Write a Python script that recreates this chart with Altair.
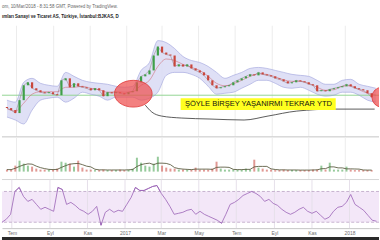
import altair as alt
import pandas as pd

# ---------------- data ----------------
week_start = "2016-06-15"   # weekly samples
close = [1.74, 1.70, 1.64, 1.90, 2.20, 2.26, 2.14, 2.10, 2.06, 2.04,
         2.06, 2.02, 2.00, 2.30, 2.34, 2.16, 2.24, 2.18, 2.16, 2.14,
         2.10, 2.14, 2.10, 1.98, 2.06, 2.04, 2.06, 2.04, 2.02, 2.06,
         2.08, 2.26, 2.38, 2.42, 2.50, 2.80, 2.98, 2.86, 2.82, 2.80,
         2.58, 2.62, 2.58, 2.62, 2.54, 2.50, 2.46, 2.40, 2.30, 2.20,
         2.14, 2.16, 2.18, 2.20, 2.26, 2.30, 2.34, 2.38, 2.42, 2.40,
         2.46, 2.42, 2.40, 2.38, 2.34, 2.32, 2.28, 2.24, 2.26, 2.30,
         2.28, 2.26, 2.22, 2.20, 2.08, 2.10, 2.08, 2.12, 2.14, 2.16,
         2.18, 2.22, 2.18, 2.14, 2.12, 2.10, 2.04, 1.96]
first_open = 1.76
volume_m = [0.5, 0.5, 1.5, 2.75, 2, 1.5, 1.25, 0.75, 0.5, 0.5,
            0.5, 0.5, 0.75, 2.5, 2.25, 2, 1.25, 2.75, 1, 0.5,
            0.5, 0.38, 0.38, 0.5, 0.38, 0.38, 0.38, 0.5, 0.38, 0.5,
            0.75, 3.5, 2.25, 1.5, 1.25, 2, 3.75, 1.5, 1, 0.75,
            0.75, 0.5, 0.5, 0.5, 0.5, 1, 0.5, 0.5, 0.5, 0.75,
            2.5, 0.75, 0.5, 0.5, 0.5, 0.5, 0.5, 0.75, 0.5, 3,
            1, 0.75, 0.5, 0.5, 0.38, 0.38, 0.5, 0.38, 0.38, 0.38,
            0.38, 0.38, 0.38, 0.5, 0.5, 1.5, 0.5, 2.25, 0.5, 0.5,
            0.5, 1.25, 0.5, 0.38, 0.38, 0.38, 0.38, 0.38]
rsi = [30.0, 33.9, 40.3, 70.0, 75.2, 63.5, 57.1, 59.7, 53.2, 46.8,
       49.4, 46.8, 44.2, 75.2, 72.6, 53.2, 55.8, 51.9, 46.8, 44.2,
       40.3, 44.2, 50.6, 26.1, 42.9, 46.8, 42.9, 45.5, 44.2, 53.2,
       62.3, 75.2, 71.3, 71.3, 73.9, 76.5, 77.7, 67.4, 59.7, 50.6,
       40.3, 41.6, 42.9, 45.5, 46.8, 40.3, 44.2, 40.3, 37.7, 35.2,
       32.6, 28.7, 40.3, 53.2, 55.8, 59.7, 64.8, 67.4, 70.0, 67.4,
       63.5, 57.1, 59.7, 54.5, 51.9, 46.8, 42.9, 40.3, 42.9, 46.8,
       49.4, 44.2, 41.6, 44.2, 39.0, 33.9, 36.5, 44.2, 49.4, 50.6,
       55.8, 66.1, 53.2, 49.4, 45.5, 39.0, 32.6, 31.3]

band_start = "2016-06-15"   # bi-weekly samples of the Bollinger band
bb_upper = [1.90, 1.86, 2.26, 2.34, 2.24, 2.20, 2.18, 2.46, 2.38, 2.30,
            2.26, 2.24, 2.22, 2.18, 2.16, 2.18, 2.50, 2.66, 3.10, 3.06,
            2.94, 2.78, 2.70, 2.66, 2.58, 2.46, 2.34, 2.40, 2.46, 2.54,
            2.56, 2.54, 2.50, 2.46, 2.42, 2.40, 2.38, 2.30, 2.22, 2.22,
            2.30, 2.32, 2.22, 2.18, 2.14]
bb_lower = [1.56, 1.50, 1.42, 1.70, 1.90, 1.94, 1.96, 1.86, 1.94, 2.06,
            2.02, 1.98, 1.90, 1.96, 1.96, 1.96, 1.90, 1.94, 2.06, 2.40,
            2.46, 2.46, 2.42, 2.34, 2.18, 2.02, 2.04, 2.06, 2.14, 2.22,
            2.30, 2.30, 2.24, 2.16, 2.14, 2.16, 2.10, 2.02, 1.98, 2.00,
            2.06, 2.06, 2.00, 1.90, 1.86]

month_ticks = ["2016-07-01", "2016-09-01", "2016-11-01", "2017-01-01", "2017-03-01",
               "2017-05-01", "2017-07-01", "2017-09-01", "2017-11-01", "2018-01-01"]
tr_months = ["Oca", "Şub", "Mar", "Nis", "May", "Haz", "Tem", "Ağu", "Eyl", "Eki", "Kas", "Ara"]

support_price = 2.00
curve_dates = ["2017-02-01", "2017-02-12", "2017-02-28", "2017-04-02", "2017-05-20",
               "2017-07-16", "2017-08-25", "2017-10-12", "2017-12-16", "2018-02-19"]
curve_prices = [1.80, 1.66, 1.58, 1.54, 1.52, 1.50, 1.58, 1.68, 1.72, 1.72]

note_text = "ŞÖYLE BİRŞEY YAŞANIRMI TEKRAR YTD"
note_start, note_end, note_mid = "2017-04-01", "2017-12-16", "2017-08-09"
note_top, note_bottom, note_price = 1.94, 1.70, 1.82
circle1 = ("2017-01-12", 2.03)
circle2 = ("2018-03-03", 1.96)

title1 = "om, 10/Mar/2018 - 8:31:58 GMT, Powered by TradingView."
title2 = "ımları Sanayi ve Ticaret AS, Türkiye, İstanbul:BJKAS, D"

# ---------------- tables ----------------
dates = pd.date_range(week_start, periods=len(close), freq="7D").strftime("%Y-%m-%d")
opens = [first_open] + close[:-1]
df = pd.DataFrame({"date": dates, "open": opens, "close": close,
                   "volume": volume_m, "rsi": rsi})
df["dir"] = ["up" if c >= o else "down" for o, c in zip(df["open"], df["close"])]
df["vma"] = df["volume"].rolling(4, min_periods=1).mean()

bdates = pd.date_range(band_start, periods=len(bb_upper), freq="14D").strftime("%Y-%m-%d")
band = pd.DataFrame({"date": bdates, "upper": bb_upper, "lower": bb_lower})
band["basis"] = (band["upper"] + band["lower"]) / 2

grid_df = pd.DataFrame({"date": month_ticks})

UP, DOWN = "#3f9f48", "#c9463c"
FONT = "Liberation Sans"
W = 380
H_PRICE, H_VOL, H_RSI = 137, 43, 49

xs = alt.Scale(type="utc", nice=False,
               domain=[alt.DateTime(year=2016, month=6, date=15, utc=True),
                       alt.DateTime(year=2018, month=2, date=18, utc=True)])
X = alt.X("date:T", scale=xs, axis=None)
dir_color = alt.Color("dir:N", scale=alt.Scale(domain=["up", "down"], range=[UP, DOWN]), legend=None)

# ---------------- price panel ----------------
ys = alt.Scale(domain=[1.16, 3.90], nice=False, zero=False)

pgrid = alt.Chart(grid_df.assign(top=3.40, bottom=1.16)).mark_rule(color="#ececec", strokeWidth=1).encode(
    x=X, y=alt.Y("top:Q", scale=ys, axis=None), y2="bottom:Q")
support = alt.Chart(pd.DataFrame({"p": [support_price]})).mark_rule(color="#93d493", strokeWidth=1).encode(
    y=alt.Y("p:Q", scale=ys, axis=None))
bb_area = alt.Chart(band).mark_area(color="#d9dbf5", opacity=0.85, interpolate="monotone").encode(
    x=X, y=alt.Y("upper:Q", scale=ys, axis=None), y2="lower:Q")
bb_up = alt.Chart(band).mark_line(color="#9da1dc", strokeWidth=0.6, interpolate="monotone").encode(
    x=X, y=alt.Y("upper:Q", scale=ys, axis=None))
bb_lo = alt.Chart(band).mark_line(color="#9da1dc", strokeWidth=0.6, interpolate="monotone").encode(
    x=X, y=alt.Y("lower:Q", scale=ys, axis=None))
bb_mid = alt.Chart(band).mark_line(color="#d0707a", strokeWidth=0.6, interpolate="monotone").encode(
    x=X, y=alt.Y("basis:Q", scale=ys, axis=None))
chain = alt.Chart(df).mark_line(color="#5a3434", strokeWidth=0.5, opacity=0.6).encode(
    x=X, y=alt.Y("close:Q", scale=ys, axis=None))
candles = alt.Chart(df).mark_bar(size=2.2).encode(
    x=X, y=alt.Y("open:Q", scale=ys, axis=None), y2="close:Q", color=dir_color)

ELLIPSE = "M -1 0 A 1 0.71 0 1 1 1 0 A 1 0.71 0 1 1 -1 0 Z"
ell1 = alt.Chart(pd.DataFrame({"date": [circle1[0]], "p": [circle1[1]]})).mark_point(
    shape=ELLIPSE, size=1444, filled=True, color="#ef4f4f", fillOpacity=0.72,
    stroke="#e03a3a", strokeWidth=0.8, strokeOpacity=1).encode(
    x=X, y=alt.Y("p:Q", scale=ys, axis=None))
ell2 = alt.Chart(pd.DataFrame({"date": [circle2[0]], "p": [circle2[1]]})).mark_point(
    shape="circle", size=400, filled=True, color="#ef4f4f", fillOpacity=0.72,
    stroke="#e03a3a", strokeWidth=0.8, strokeOpacity=1, clip=True).encode(
    x=X, y=alt.Y("p:Q", scale=ys, axis=None))
curve = alt.Chart(pd.DataFrame({"date": curve_dates, "p": curve_prices})).mark_line(
    color="#333333", strokeWidth=0.8, interpolate="monotone").encode(
    x=X, y=alt.Y("p:Q", scale=ys, axis=None))
note_box = alt.Chart(pd.DataFrame({"s": [note_start], "e": [note_end],
                                   "t": [note_top], "b": [note_bottom]})).mark_rect(color="#ffff1f").encode(
    x=alt.X("s:T", scale=xs, axis=None), x2="e:T", y=alt.Y("t:Q", scale=ys, axis=None), y2="b:Q")
note = alt.Chart(pd.DataFrame({"date": [note_mid], "p": [note_price], "label": [note_text]})).mark_text(
    font=FONT, fontSize=7.6, color="#111111", align="center", baseline="middle").encode(
    x=X, y=alt.Y("p:Q", scale=ys, axis=None), text="label:N")
psep = alt.Chart(pd.DataFrame({"p": [1.16]})).mark_rule(color="#c4c4c4", strokeWidth=1).encode(
    y=alt.Y("p:Q", scale=ys, axis=None))
t1 = alt.Chart(pd.DataFrame({"t": [title1]})).mark_text(
    font=FONT, fontSize=4.5, color="#666666", align="left", baseline="middle").encode(
    x=alt.value(0), y=alt.value(6), text="t:N")
t2 = alt.Chart(pd.DataFrame({"t": [title2]})).mark_text(
    font=FONT, fontSize=4.5, fontWeight="bold", color="#222222", align="left", baseline="middle").encode(
    x=alt.value(0), y=alt.value(16), text="t:N")

price = alt.layer(pgrid, bb_area, support, bb_up, bb_lo, bb_mid, chain, candles, ell1, curve,
                  note_box, note, ell2, psep, t1, t2).properties(width=W, height=H_PRICE)

# ---------------- volume panel ----------------
vs = alt.Scale(domain=[-2, 8.75], nice=False, zero=False)
vgrid = alt.Chart(grid_df).mark_rule(color="#ececec", strokeWidth=1).encode(x=X)
vbars = alt.Chart(df.assign(zero=0.0)).mark_bar(size=2, opacity=0.55).encode(
    x=X, y=alt.Y("volume:Q", scale=vs, axis=None), y2="zero:Q", color=dir_color)
vma = alt.Chart(df).mark_line(color="#4a4a2c", strokeWidth=0.8).encode(
    x=X, y=alt.Y("vma:Q", scale=vs, axis=None))
vsep = alt.Chart(pd.DataFrame({"v": [-2.0]})).mark_rule(color="#d6d6d6", strokeWidth=1).encode(
    y=alt.Y("v:Q", scale=vs, axis=None))
vol = alt.layer(vgrid, vbars, vma, vsep).properties(width=W, height=H_VOL)

# ---------------- RSI panel ----------------
rs = alt.Scale(domain=[22.3, 85.5], nice=False, zero=False)
month_expr = "[" + ",".join("'%s'" % m for m in tr_months) + "]"
x_axis = alt.Axis(
    values=[alt.DateTime(year=int(d[:4]), month=int(d[5:7]), date=1, utc=True) for d in month_ticks],
    labelExpr="utcmonth(datum.value)==0 ? utcFormat(datum.value,'%Y') : " + month_expr + "[utcmonth(datum.value)]",
    labelFont=FONT, labelFontSize=5, labelColor="#707070", labelPadding=2,
    ticks=False, grid=False, domainColor="#c4c4c4", title=None, labelOverlap=False)
XR = alt.X("date:T", scale=xs, axis=x_axis)
rline = alt.Chart(df).mark_line(color="#9a62b6", strokeWidth=0.8).encode(
    x=XR, y=alt.Y("rsi:Q", scale=rs, axis=None))
rband = alt.Chart(pd.DataFrame({"hi": [70], "lo": [30]})).mark_rect(color="#f3e7f8").encode(
    x=alt.value(0), x2=alt.value(W), y=alt.Y("hi:Q", scale=rs, axis=None), y2="lo:Q")
rgrid = alt.Chart(grid_df).mark_rule(color="#e6e0ea", strokeWidth=1).encode(x=XR)
rlev = alt.Chart(pd.DataFrame({"v": [70, 30]})).mark_rule(
    color="#b9a2c4", strokeWidth=0.8, strokeDash=[3, 2]).encode(y=alt.Y("v:Q", scale=rs, axis=None))
strip = alt.Chart(pd.DataFrame({"a": [0]})).mark_rect(color="#2a2a2a").encode(
    x=alt.value(0), x2=alt.value(W), y=alt.value(58), y2=alt.value(62))
rsi_panel = alt.layer(rline, rband, rgrid, rlev, rline, strip).properties(width=W, height=H_RSI)

chart = alt.vconcat(price, vol, rsi_panel, spacing=0, bounds="flush").properties(
    padding=0, background="white"
).configure_view(strokeWidth=0)

chart.save("out.html", embed_options={"renderer": "svg", "actions": False})
